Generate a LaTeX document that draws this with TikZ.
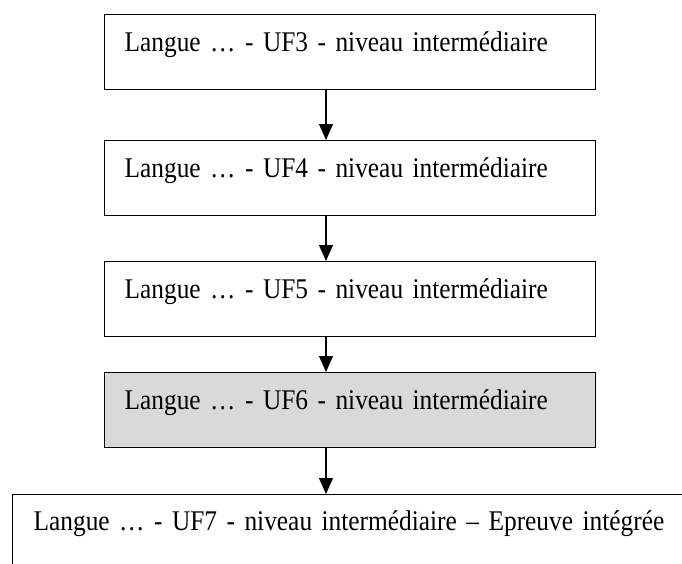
\documentclass[tikz,border=0pt]{standalone}
\usepackage{fontspec}
\setmainfont[FakeStretch=0.89]{Liberation Serif}
\usetikzlibrary{arrows.meta}
\newcommand\ufsize{\fontsize{28.5pt}{32pt}\selectfont}
\begin{document}
\begin{tikzpicture}[x=1pt,y=-1pt,
  uf/.style={draw,line width=1.3pt,rectangle,anchor=north west,inner xsep=20pt,inner ysep=0pt,
    text height=37pt,text depth=38pt,align=left,font=\ufsize},
  fl/.style={-{Triangle[width=14pt,length=16pt]},line width=1.2pt}]
\useasboundingbox (0,0) rectangle (682,563);
\clip (0,0) rectangle (682,563);

\node[uf,text width=451pt] (uf3) at (104,14) {Langue … - UF3 - niveau intermédiaire};
\node[uf,text width=451pt] (uf4) at (104,140) {Langue … - UF4 - niveau intermédiaire};
\node[uf,text width=451pt] (uf5) at (104,261) {Langue … - UF5 - niveau intermédiaire};
\node[uf,text width=451pt,fill=gray!30] (uf6) at (104,372) {Langue … - UF6 - niveau intermédiaire};
\node[uf,text width=700pt,inner xsep=21pt,text height=36pt,text depth=90pt] (uf7) at (12,494)
  {Langue … - UF7 - niveau intermédiaire – Epreuve intégrée};

\coordinate (ax) at (326,0);
\draw[fl] (uf3.south -| ax) -- (uf4.north -| ax);
\draw[fl] (uf4.south -| ax) -- (uf5.north -| ax);
\draw[fl] (uf5.south -| ax) -- (uf6.north -| ax);
\draw[fl] (uf6.south -| ax) -- (uf7.north -| ax);

\end{tikzpicture}
\end{document}
